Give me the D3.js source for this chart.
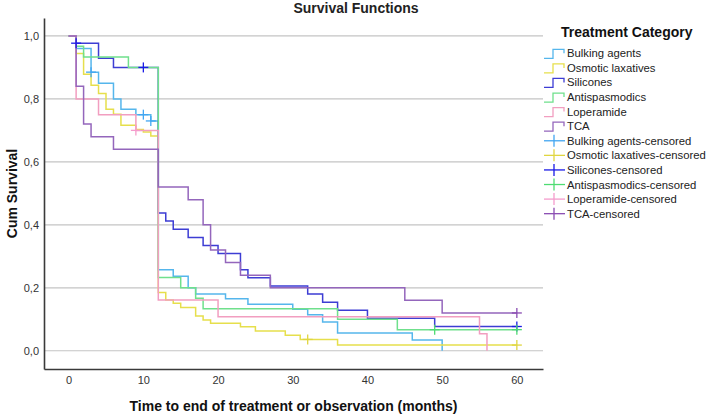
<!DOCTYPE html>
<html>
<head>
<meta charset="utf-8">
<script src="https://cdn.jsdelivr.net/npm/d3@7"></script>
<style>
  body { margin: 0; background: #fff; }
  text { font-family: "Liberation Sans", Arial, sans-serif; }
</style>
</head>
<body>
<div id="chart"></div>
<script>

// DATA
const categories = ["Bulking agents", "Osmotic laxatives", "Silicones", "Antispasmodics", "Loperamide", "TCA"];

const bulkingTimes = [0, 1, 3, 4, 6, 7, 9, 11, 12, 14, 16, 17, 21, 24, 30, 32, 34, 36, 46, 50];
const bulkingSurv  = [1, .96, .885, .85, .80, .767, .75, .73, .257, .237, .20, .18, .165, .148, .132, .114, .091, .056, .034, 0];
const bulkingCensored = [3, 10, 11];

const osmoticTimes = [0, 1, 2, 3, 4, 5, 6, 7, 9, 10, 11, 12, 13, 14, 15, 17, 18, 19, 23, 25, 29, 31, 36];
const osmoticSurv  = [1, .944, .878, .843, .817, .767, .751, .716, .703, .695, .682, .185, .161, .151, .137, .11, .098, .087, .076, .063, .049, .036, .018];
const osmoticCensored = [32, 60];

const siliconeTimes = [0, 1, 4, 6, 12, 13, 14, 16, 18, 20, 23, 24, 27, 32, 34, 36, 40, 49];
const siliconeSurv  = [1, .977, .929, .90, .4375, .412, .386, .360, .334, .309, .257, .232, .206, .180, .154, .129, .103, .077];
const siliconeCensored = [1, 10, 60];

const antispasTimes = [0, 1, 2, 8, 12, 15, 17, 18, 36, 44];
const antispasSurv  = [1, .967, .933, .90, .233, .20, .167, .133, .10, .067];
const antispasCensored = [49, 60];

const loperTimes = [0, 1, 4, 9, 12, 20, 55, 56];
const loperSurv  = [1, .80, .75, .70, .1615, .108, .054, 0];
const loperCensored = [9];

const tcaTimes = [0, 1, 2, 3, 6, 12, 16, 18, 19, 21, 23, 27, 45, 50];
const tcaSurv  = [1, .84, .72, .68, .64, .52, .48, .40, .32, .28, .24, .20, .16, .12];
const tcaCensored = [60];

const yTicks = [0, 0.2, 0.4, 0.6, 0.8, 1.0];
const xTicks = [0, 10, 20, 30, 40, 50, 60];

const lineColors   = ["#55b6ec", "#e6df4c", "#3d3dd4", "#6fe08c", "#f29ec0", "#9466bc"];
const censorColors = ["#42a6f2", "#e0d640", "#1a1ae6", "#4edc72", "#f59ccc", "#8a4cb2"];

let series = [
    {times: bulkingTimes, surv: bulkingSurv, cens: bulkingCensored},
    {times: osmoticTimes, surv: osmoticSurv, cens: osmoticCensored},
    {times: siliconeTimes, surv: siliconeSurv, cens: siliconeCensored},
    {times: antispasTimes, surv: antispasSurv, cens: antispasCensored},
    {times: loperTimes, surv: loperSurv, cens: loperCensored},
    {times: tcaTimes, surv: tcaSurv, cens: tcaCensored}
];

// CHART AREA
let width = 709, height = 415;
let plot = {left: 44, right: 543, top: 18, bottom: 369};

let svg = d3.select("#chart").append("svg")
    .attr("width", width)
    .attr("height", height);

svg.append("rect").attr("width", width).attr("height", height).attr("fill", "#fff");

// SCALES
let x = d3.scaleLinear().domain([-3.3, 63.5]).range([plot.left, plot.right]);
let y = d3.scaleLinear().domain([-0.058, 1.057]).range([plot.bottom, plot.top]);

let comma = d3.formatLocale({decimal: ",", thousands: ".", grouping: [3], currency: ["", ""]}).format(".1f");

// GRIDLINES
svg.append("g").selectAll("line")
    .data(yTicks)
    .enter().append("line")
    .attr("x1", plot.left).attr("x2", plot.right)
    .attr("y1", d => y(d)).attr("y2", d => y(d))
    .attr("stroke", "#c4c4c4")
    .attr("stroke-width", 1.2);

// AXIS
let xAxis = d3.axisBottom(x).tickValues(xTicks).tickSize(0).tickSizeOuter(0).tickPadding(7);
let yAxis = d3.axisLeft(y).tickValues(yTicks).tickSize(0).tickSizeOuter(0).tickPadding(5).tickFormat(comma);

let xAxisGroup = svg.append("g")
    .attr("transform", "translate(0," + plot.bottom + ")")
    .call(xAxis);
let yAxisGroup = svg.append("g")
    .attr("transform", "translate(" + plot.left + ",0)")
    .call(yAxis);

[xAxisGroup, yAxisGroup].forEach(g => {
    g.select(".domain").attr("stroke", "#3a3a3a").attr("stroke-width", 1.6);
    g.selectAll("text").attr("font-size", 11).attr("fill", "#333")
        .attr("font-family", "Liberation Sans, Arial, sans-serif");
});

// ---- CURVES ----
let stepLine = d3.line()
    .x(d => x(d[0]))
    .y(d => y(d[1]))
    .curve(d3.curveStepAfter);

function survAt(s, t) {
    let v = s.surv[0];
    s.times.forEach((tt, i) => { if (tt <= t) v = s.surv[i]; });
    return v;
}

series.forEach((s, i) => {
    let pts = s.times.map((t, j) => [t, s.surv[j]]);
    let end = d3.max([d3.max(s.times), d3.max(s.cens)]);
    if (end > pts[pts.length - 1][0]) pts.push([end, s.surv[s.surv.length - 1]]);

    svg.append("path")
        .datum(pts)
        .attr("d", stepLine)
        .attr("fill", "none")
        .attr("stroke", lineColors[i])
        .attr("stroke-width", 1.5);
});

// censored marks on top
series.forEach((s, i) => {
    let g = svg.append("g").attr("stroke", censorColors[i]).attr("stroke-width", 1.3);
    s.cens.forEach(t => {
        let cx = x(t), cy = y(survAt(s, t));
        g.append("line").attr("x1", cx - 5).attr("x2", cx + 5).attr("y1", cy).attr("y2", cy);
        g.append("line").attr("x1", cx).attr("x2", cx).attr("y1", cy - 5).attr("y2", cy + 5);
    });
});

// TITLES
svg.append("text")
    .attr("x", 356).attr("y", 13)
    .attr("text-anchor", "middle")
    .attr("font-size", 14).attr("font-weight", "bold").attr("fill", "#222")
    .text("Survival Functions");

svg.append("text")
    .attr("x", (plot.left + plot.right) / 2).attr("y", 411)
    .attr("text-anchor", "middle")
    .attr("font-size", 14).attr("font-weight", "bold").attr("fill", "#111")
    .text("Time to end of treatment or observation (months)");

svg.append("text")
    .attr("transform", "translate(17," + (plot.top + plot.bottom) / 2 + ") rotate(-90)")
    .attr("text-anchor", "middle")
    .attr("font-size", 14).attr("font-weight", "bold").attr("fill", "#111")
    .text("Cum Survival");

// LEGEND
let legend = svg.append("g");
legend.append("text")
    .attr("x", 561).attr("y", 37)
    .attr("font-size", 14).attr("font-weight", "bold").attr("fill", "#111")
    .text("Treatment Category");

let legendItems = categories.map((c, i) => ({label: c, color: lineColors[i], censored: false}))
    .concat(categories.map((c, i) => ({label: c + "-censored", color: censorColors[i], censored: true})));

legendItems.forEach((d, i) => {
    let ly = 53.3 + i * 14.58;
    let g = legend.append("g").attr("stroke", d.color).attr("fill", "none").attr("stroke-width", 1.3);
    if (!d.censored) {
        g.append("path").attr("d", `M544,${ly + 5}H553V${ly - 4}H564V${ly}`);
    } else {
        g.append("line").attr("x1", 544).attr("x2", 565).attr("y1", ly).attr("y2", ly);
        g.append("line").attr("x1", 554).attr("x2", 554).attr("y1", ly - 6).attr("y2", ly + 6);
    }
    legend.append("text")
        .attr("x", 567).attr("y", ly + 4)
        .attr("font-size", 11.3).attr("fill", "#222")
        .text(d.label);
});

</script>
</body>
</html>
